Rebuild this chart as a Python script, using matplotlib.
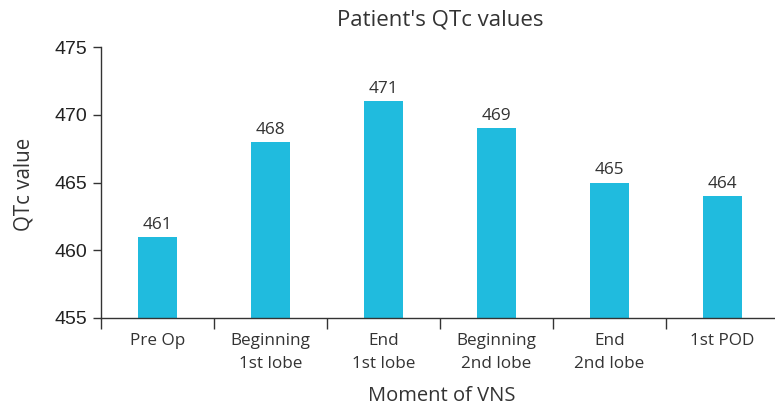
import matplotlib
matplotlib.use("Agg")
import matplotlib.pyplot as plt
import numpy as np

categories = ["Pre Op", "Beginning\n1st lobe", "End\n1st lobe", "Beginning\n2nd lobe", "End\n2nd lobe", "1st POD"]
values = [461, 468, 471, 469, 465, 464]
yticks = [455, 460, 465, 470, 475]

bar_color = "#20BBDE"
text_color = "#333333"
label_font = "Open Sans"

fig = plt.figure(figsize=(7.75, 4.07), dpi=100)
ax = fig.add_axes([101/775, 89/407, 678/775, 271/407])

x = np.arange(len(categories))
bars = ax.bar(x, values, width=0.34, color=bar_color, bottom=0)
ax.set_ylim(455, 475)
ax.set_xlim(-0.5, len(categories) - 0.5)

for xi, v in zip(x, values):
    ax.annotate(f"{v}", (xi, v), xytext=(0, 3), textcoords="offset points",
                ha="center", va="bottom", fontsize=12.4, family=label_font, color=text_color)

ax.set_yticks(yticks)
ax.set_yticklabels([str(t) for t in yticks], fontsize=14, family="Liberation Sans", color="#222222")
ax.tick_params(axis="y", direction="out", length=6, width=1, color=text_color, pad=4)

ax.set_xticks(x)
ax.set_xticklabels(categories, fontsize=12.3, family=label_font, color=text_color, linespacing=1.55)
ax.tick_params(axis="x", which="major", length=0, pad=11)
ax.set_xticks(np.arange(-0.5, len(categories) + 0.5, 1), minor=True)
ax.tick_params(axis="x", which="minor", direction="out", length=8, width=1, color=text_color)

for s in ["top", "right"]:
    ax.spines[s].set_visible(False)
for s in ["left", "bottom"]:
    ax.spines[s].set_color(text_color)
    ax.spines[s].set_linewidth(1)

fig.text(440/775, 1 - 20/407, "Patient's QTc values", ha="center", va="center",
         fontsize=16, family=label_font, color=text_color)
fig.text(442/775, 1 - 396/407, "Moment of VNS", ha="center", va="center",
         fontsize=14.5, family=label_font, color=text_color)
fig.text(24/775, 1 - 184/407, "QTc value", ha="center", va="center", rotation=90,
         fontsize=14.8, family=label_font, color=text_color)

fig.savefig("out.png", dpi=100)
